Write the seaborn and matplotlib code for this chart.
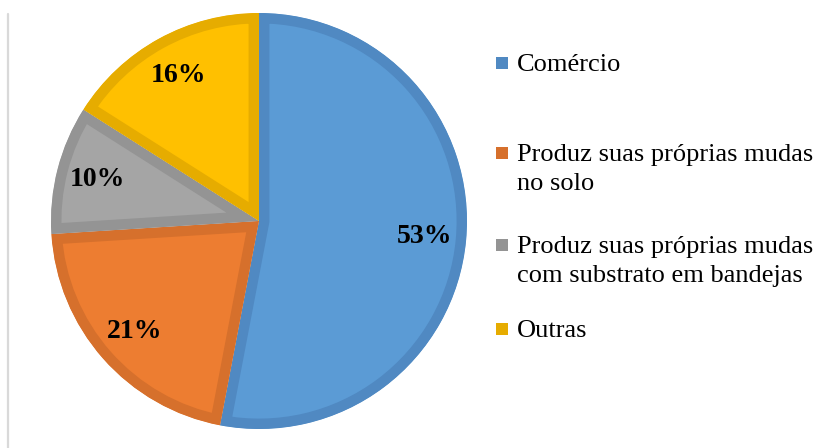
import matplotlib
matplotlib.use("Agg")
import matplotlib.pyplot as plt
import seaborn as sns
from matplotlib.patches import Rectangle
from matplotlib.lines import Line2D

# Dados do gráfico
categorias = [
    "Comércio",
    "Produz suas próprias mudas\nno solo",
    "Produz suas próprias mudas\ncom substrato em bandejas",
    "Outras",
]
percentuais = [53, 21, 10, 16]
cores = ["#5B9BD5", "#ED7D31", "#A5A5A5", "#FFC000"]
bordas = ["#5089C2", "#D6702C", "#949494", "#E6AC00"]

sns.set_theme(style="white")
plt.rcParams["font.family"] = ["Liberation Serif", "DejaVu Serif"]

W, H = 827, 448
fig = plt.figure(figsize=(W / 100, H / 100), dpi=100)
fig.patch.set_facecolor("white")

# pizza: centro ~ (259, 221), raio ~ 208 px
cx, cy, r = 259, 221, 208
ax = fig.add_axes([(cx - r) / W, (H - cy - r) / H, 2 * r / W, 2 * r / H])

wedges, _, autotextos = ax.pie(
    percentuais,
    colors=cores,
    startangle=90,
    counterclock=False,
    autopct=lambda p: f"{p:.0f}%",
    pctdistance=0.8,
    wedgeprops=dict(linewidth=15),
    textprops=dict(fontsize=20, fontweight="bold", color="black"),
)
# borda interna mais escura em cada fatia
for w, b in zip(wedges, bordas):
    w.set_edgecolor(b)
    w.set_clip_on(True)
    w.set_clip_path(w.get_path(), ax.transData)

ax.set_xlim(-1, 1)
ax.set_ylim(-1, 1)
ax.set_aspect("equal")
ax.axis("off")

# linha cinza à esquerda
fig.add_artist(Line2D([8 / W, 8 / W], [0, 1 - 14 / H], color="#D9D9D9", linewidth=1.6))

# legenda manual (linha de base da primeira linha em px)
bases = [71, 161, 253, 337]
passo = 29
for cat, cor, yb in zip(categorias, bordas, bases):
    fig.add_artist(Rectangle((496 / W, 1 - (yb - 2) / H), 12 / W, 12 / H,
                             transform=fig.transFigure, facecolor=cor, edgecolor="none"))
    for i, linha in enumerate(cat.split("\n")):
        fig.text(517 / W, 1 - (yb + i * passo) / H, linha, fontsize=19,
                 va="baseline", ha="left", color="black")

fig.savefig("out.png", dpi=100, facecolor="white")
